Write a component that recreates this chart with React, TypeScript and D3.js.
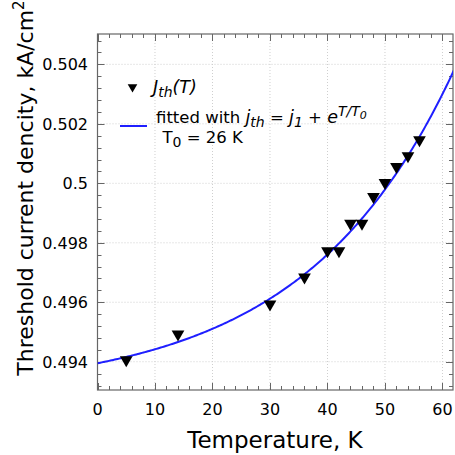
import React, { useEffect, useRef } from "react";
import * as d3 from "d3";

// measured points J_th(T)
const temps = [5, 14, 30, 36, 40, 42, 44, 46, 48, 50, 52, 54, 56];
const jth = [
  0.49406, 0.49493, 0.49594, 0.49684, 0.49773, 0.49773, 0.49865, 0.49865,
  0.49955, 0.50002, 0.50056, 0.50092, 0.50146,
];

// fit j = j1 + A*exp(T/T0)
const fitJ1 = 0.49295;
const fitA = 0.001;
const fitT0 = 26;

const xTicks = [0, 10, 20, 30, 40, 50, 60];
const yTicks = [0.494, 0.496, 0.498, 0.5, 0.502, 0.504];
const yTickLabels = ["0.494", "0.496", "0.498", "0.5", "0.502", "0.504"];

const App = () => {
  const ref = useRef<SVGSVGElement>(null);

  useEffect(() => {
    const width = 455;
    const height = 455;
    const left = 97.5;
    const right = 453;
    const top = 34;
    const bottom = 390;
    const font = "DejaVu Sans, sans-serif";

    const x = d3.scaleLinear().domain([0, 61.83]).range([left, right]);
    const y = d3.scaleLinear().domain([0.49305, 0.50502]).range([bottom, top]);

    const svg = d3.select(ref.current);
    svg.selectAll("*").remove();
    svg.attr("width", width).attr("height", height);

    svg.append("defs").append("clipPath").attr("id", "plotclip")
      .append("rect").attr("x", left).attr("y", top)
      .attr("width", right - left).attr("height", bottom - top);

    // grid
    const grid = svg.append("g").attr("stroke", "#cfcfcf").attr("stroke-width", 1)
      .attr("stroke-dasharray", "1,2");
    grid.selectAll("line.gx").data(xTicks.slice(1)).join("line")
      .attr("x1", (d) => x(d)).attr("x2", (d) => x(d))
      .attr("y1", top).attr("y2", bottom);
    grid.selectAll("line.gy").data(yTicks).join("line")
      .attr("y1", (d) => y(d)).attr("y2", (d) => y(d))
      .attr("x1", left).attr("x2", right);

    // ticks on all sides, pointing inward
    const xMinor = d3.range(0, 62, 2);
    const yMinor = d3.range(0, 31).map((i) => 0.4932 + i * 0.0004);
    const tk = svg.append("g").attr("stroke", "#666").attr("stroke-width", 1);
    const xMaj = (d: number) => xTicks.includes(d);
    xMinor.forEach((d) => {
      const len = xMaj(d) ? 7 : 4;
      const px = Math.round(x(d)) + 0.5;
      tk.append("line").attr("x1", px).attr("x2", px).attr("y1", bottom).attr("y2", bottom - len);
      tk.append("line").attr("x1", px).attr("x2", px).attr("y1", top).attr("y2", top + len);
    });
    yMinor.forEach((d) => {
      if (d > 0.50502) return;
      const major = yTicks.some((t) => Math.abs(t - d) < 1e-7);
      const len = major ? 7 : 4;
      const py = Math.round(y(d)) + 0.5;
      tk.append("line").attr("y1", py).attr("y2", py).attr("x1", left).attr("x2", left + len);
      tk.append("line").attr("y1", py).attr("y2", py).attr("x1", right).attr("x2", right - len);
    });

    // frame
    svg.append("rect").attr("x", left).attr("y", top)
      .attr("width", right - left).attr("height", bottom - top)
      .attr("fill", "none").attr("stroke", "#666").attr("stroke-width", 1.2);

    // tick labels
    svg.append("g").selectAll("text").data(xTicks).join("text")
      .attr("x", (d) => x(d)).attr("y", 414.5)
      .attr("text-anchor", "middle").attr("font-family", font).attr("font-size", 16)
      .text((d) => d);
    svg.append("g").selectAll("text").data(yTicks).join("text")
      .attr("x", 88).attr("y", (d) => y(d) + 5.8)
      .attr("text-anchor", "end").attr("font-family", font).attr("font-size", 16)
      .text((d, i) => yTickLabels[i]);

    // axis titles
    svg.append("text").attr("x", 275).attr("y", 447.5)
      .attr("text-anchor", "middle").attr("font-family", font).attr("font-size", 23)
      .text("Temperature, K");
    const yt = svg.append("text").attr("transform", "translate(33,188) rotate(-90)")
      .attr("text-anchor", "middle").attr("font-family", font).attr("font-size", 22);
    yt.append("tspan").text("Threshold current dencity, kA/cm");
    yt.append("tspan").attr("baseline-shift", "super").attr("font-size", 15).text("2");

    // fit curve
    const curve = d3.range(0, 62.01, 0.25).map((t) => [t, fitJ1 + fitA * Math.exp(t / fitT0)]);
    svg.append("path").datum(curve).attr("clip-path", "url(#plotclip)")
      .attr("fill", "none").attr("stroke", "#1f1fff").attr("stroke-width", 2)
      .attr("d", d3.line().x((d) => x(d[0])).y((d) => y(d[1])));

    // markers
    const tri = d3.symbol().type(d3.symbolTriangle).size(70);
    svg.append("g").selectAll("path").data(temps).join("path")
      .attr("transform", (d, i) => `translate(${x(d)},${y(jth[i])}) rotate(180)`)
      .attr("d", tri).attr("fill", "black");

    // legend
    const lg = svg.append("g").attr("font-family", font);
    lg.append("path").attr("transform", "translate(132.5,87) rotate(180)")
      .attr("d", d3.symbol().type(d3.symbolTriangle).size(40)).attr("fill", "black");
    const l1 = lg.append("text").attr("x", 153).attr("y", 92.5).attr("font-size", 17.5)
      .attr("font-style", "italic");
    l1.append("tspan").text("J");
    l1.append("tspan").attr("font-size", 14).attr("dy", 4).text("th");
    l1.append("tspan").attr("dy", -4).text("(T)");

    lg.append("line").attr("x1", 120).attr("x2", 147).attr("y1", 126).attr("y2", 126)
      .attr("stroke", "#1f1fff").attr("stroke-width", 2);
    const l2 = lg.append("text").attr("x", 156).attr("y", 122.7).attr("font-size", 16.5);
    l2.append("tspan").text("fitted with ");
    l2.append("tspan").attr("font-style", "italic").attr("font-size", 17.5).text("j");
    l2.append("tspan").attr("font-style", "italic").attr("font-size", 14).attr("dy", 4).text("th");
    l2.append("tspan").attr("dy", -4).text(" = ");
    l2.append("tspan").attr("font-style", "italic").attr("font-size", 17.5).text("j");
    l2.append("tspan").attr("font-style", "italic").attr("font-size", 14).attr("dy", 4).text("1");
    l2.append("tspan").attr("dy", -4).text(" + ");
    l2.append("tspan").attr("font-style", "italic").attr("font-size", 17.5).text("e");
    l2.append("tspan").attr("font-style", "italic").attr("font-size", 14).attr("dy", -7).text("T/T");
    l2.append("tspan").attr("font-style", "italic").attr("font-size", 11).attr("dy", 3).text("0");
    const l3 = lg.append("text").attr("x", 162.5).attr("y", 143.3).attr("font-size", 16.5);
    l3.append("tspan").text("T");
    l3.append("tspan").attr("font-size", 14).attr("dy", 4).text("0");
    l3.append("tspan").attr("dy", -4).text(" = 26 K");
  }, []);

  return <svg ref={ref} style={{ display: "block", position: "absolute", left: 0, top: 0 }} />;
};

export default App;
